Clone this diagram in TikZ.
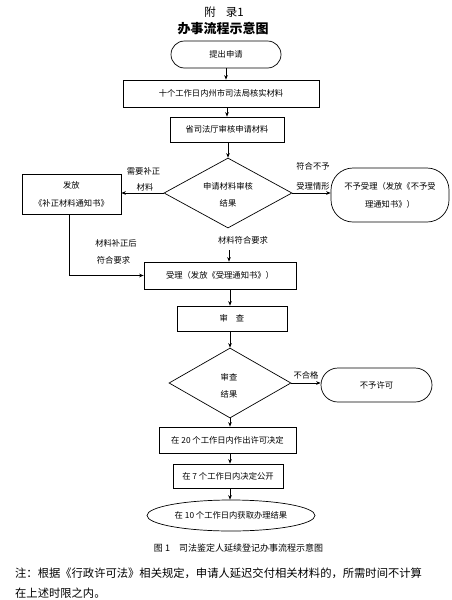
\documentclass[tikz,border=0pt]{standalone}
\usepackage{fontspec}
\setmainfont{Noto Sans CJK SC}
\usetikzlibrary{arrows.meta,shapes.geometric}
\begin{document}
\begin{tikzpicture}[x=1pt,y=-1pt,
  every node/.style={font=\fontsize{8.3}{10}\selectfont, inner sep=0pt},
  box/.style={draw, line width=0.7pt, rectangle, align=center, font=\fontsize{8.3}{18}\selectfont},
  dia/.style={draw, line width=0.7pt, diamond},
  arr/.style={draw, line width=0.7pt, -{Stealth[length=4.5pt,width=3.6pt]}},
  ln/.style={draw, line width=0.7pt}]
\useasboundingbox[fill=white] (0,0) rectangle (452,600);

% titles
\node (t1) at (224,12) {\fontsize{11.5}{12}\selectfont 附\hspace{10pt}录1};
\node (t2) at (223,29) {\fontsize{13}{14}\selectfont\bfseries 办事流程示意图};

% main flow
\node[box, rounded corners=13.5pt, minimum width=110pt, minimum height=27pt] (s) at (226,54.5) {提出申请};
\node[box, minimum width=196pt, minimum height=27pt] (b1) at (221,93.5) {十个工作日内州市司法局核实材料};
\node[box, minimum width=114pt, minimum height=25pt] (b2) at (227,129.5) {省司法厅审核申请材料};
\node[dia, minimum width=128pt, minimum height=70pt] (d1) at (228,193) {};
\node (d1a) at (228,186) {申请材料审核};
\node (d1b) at (228,203) {结果};

\node[box, minimum width=99pt, minimum height=40pt] (lb) at (71.5,194) {发放\\《补正材料通知书》};
\node[box, rounded corners=22pt, minimum width=118pt, minimum height=54pt] (rb) at (390,195) {不予受理（发放《不予受\\理通知书》）};

\node (l1) at (143.5,171) {需要补正};
\node (l2) at (145,187) {材料};
\node (l3) at (313,166) {符合不予};
\node (l4) at (313,186) {受理情形};
\node (l5) at (243,240) {材料符合要求};
\node (l6) at (116,243) {材料补正后};
\node (l7) at (113.5,260) {符合要求};

\node[box, minimum width=152pt, minimum height=27pt] (acc) at (220,275.5) {受理（发放《受理通知书》）};
\node[box, minimum width=110pt, minimum height=25pt] (b3) at (232,318.5) {审\hspace{8pt}查};
\node[dia, minimum width=122pt, minimum height=70pt] (d2) at (230,383) {};
\node (d2a) at (229,377) {审查};
\node (d2b) at (229,394) {结果};
\node[box, rounded corners=17pt, minimum width=111pt, minimum height=34pt] (rn) at (376.5,385) {不予许可};
\node (l8) at (306,375) {不合格};
\node[box, minimum width=137pt, minimum height=26pt] (b4) at (227.5,440) {在 20 个工作日内作出许可决定};
\node[box, minimum width=110pt, minimum height=24pt] (b5) at (228,476) {在 7 个工作日内决定公开};
\node[draw, line width=0.7pt, ellipse, minimum width=168pt, minimum height=31pt] (e) at (231,515.5) {在 10 个工作日内获取办理结果};

% caption and note
\node (cap) at (238.5,548) {\fontsize{9}{10}\selectfont 图 1\hspace{9pt}司法鉴定人延续登记办事流程示意图};
\node[anchor=west] (n1) at (15,573) {\fontsize{11.3}{12}\selectfont 注：根据《行政许可法》相关规定，申请人延迟交付相关材料的，所需时间不计算};
\node[anchor=west] (n2) at (15,593) {\fontsize{11.3}{12}\selectfont 在上述时限之内。};

\coordinate (m1) at (229,250);

% connectors
\draw[arr] (s.south) -- (s.south |- b1.north);
\draw[arr] (b1.south -| b2) -- (b2.north);
\draw[arr] (b2.south -| d1) -- (d1.north);
\draw[arr] (d1.west) -- (d1.west -| lb.east);
\draw[arr] (d1.east) -- (d1.east -| rb.west);
\draw[arr] (m1) -- (m1 |- acc.north);
\draw[arr] ([xshift=-2pt]lb.south) |- (acc.west);
\draw[arr] (acc.south -| d2) -- (b3.north -| d2);
\draw[arr] (b3.south -| d2) -- (d2.north);
\draw[arr] (d2.east) -- (d2.east -| rn.west);
\draw[arr] (d2.south) -- (d2.south |- b4.north);
\draw[arr] (b4.south -| d2) -- (b5.north -| d2);
\draw[arr] (b5.south -| d2) -- (e.north -| d2);
\end{tikzpicture}
\end{document}
